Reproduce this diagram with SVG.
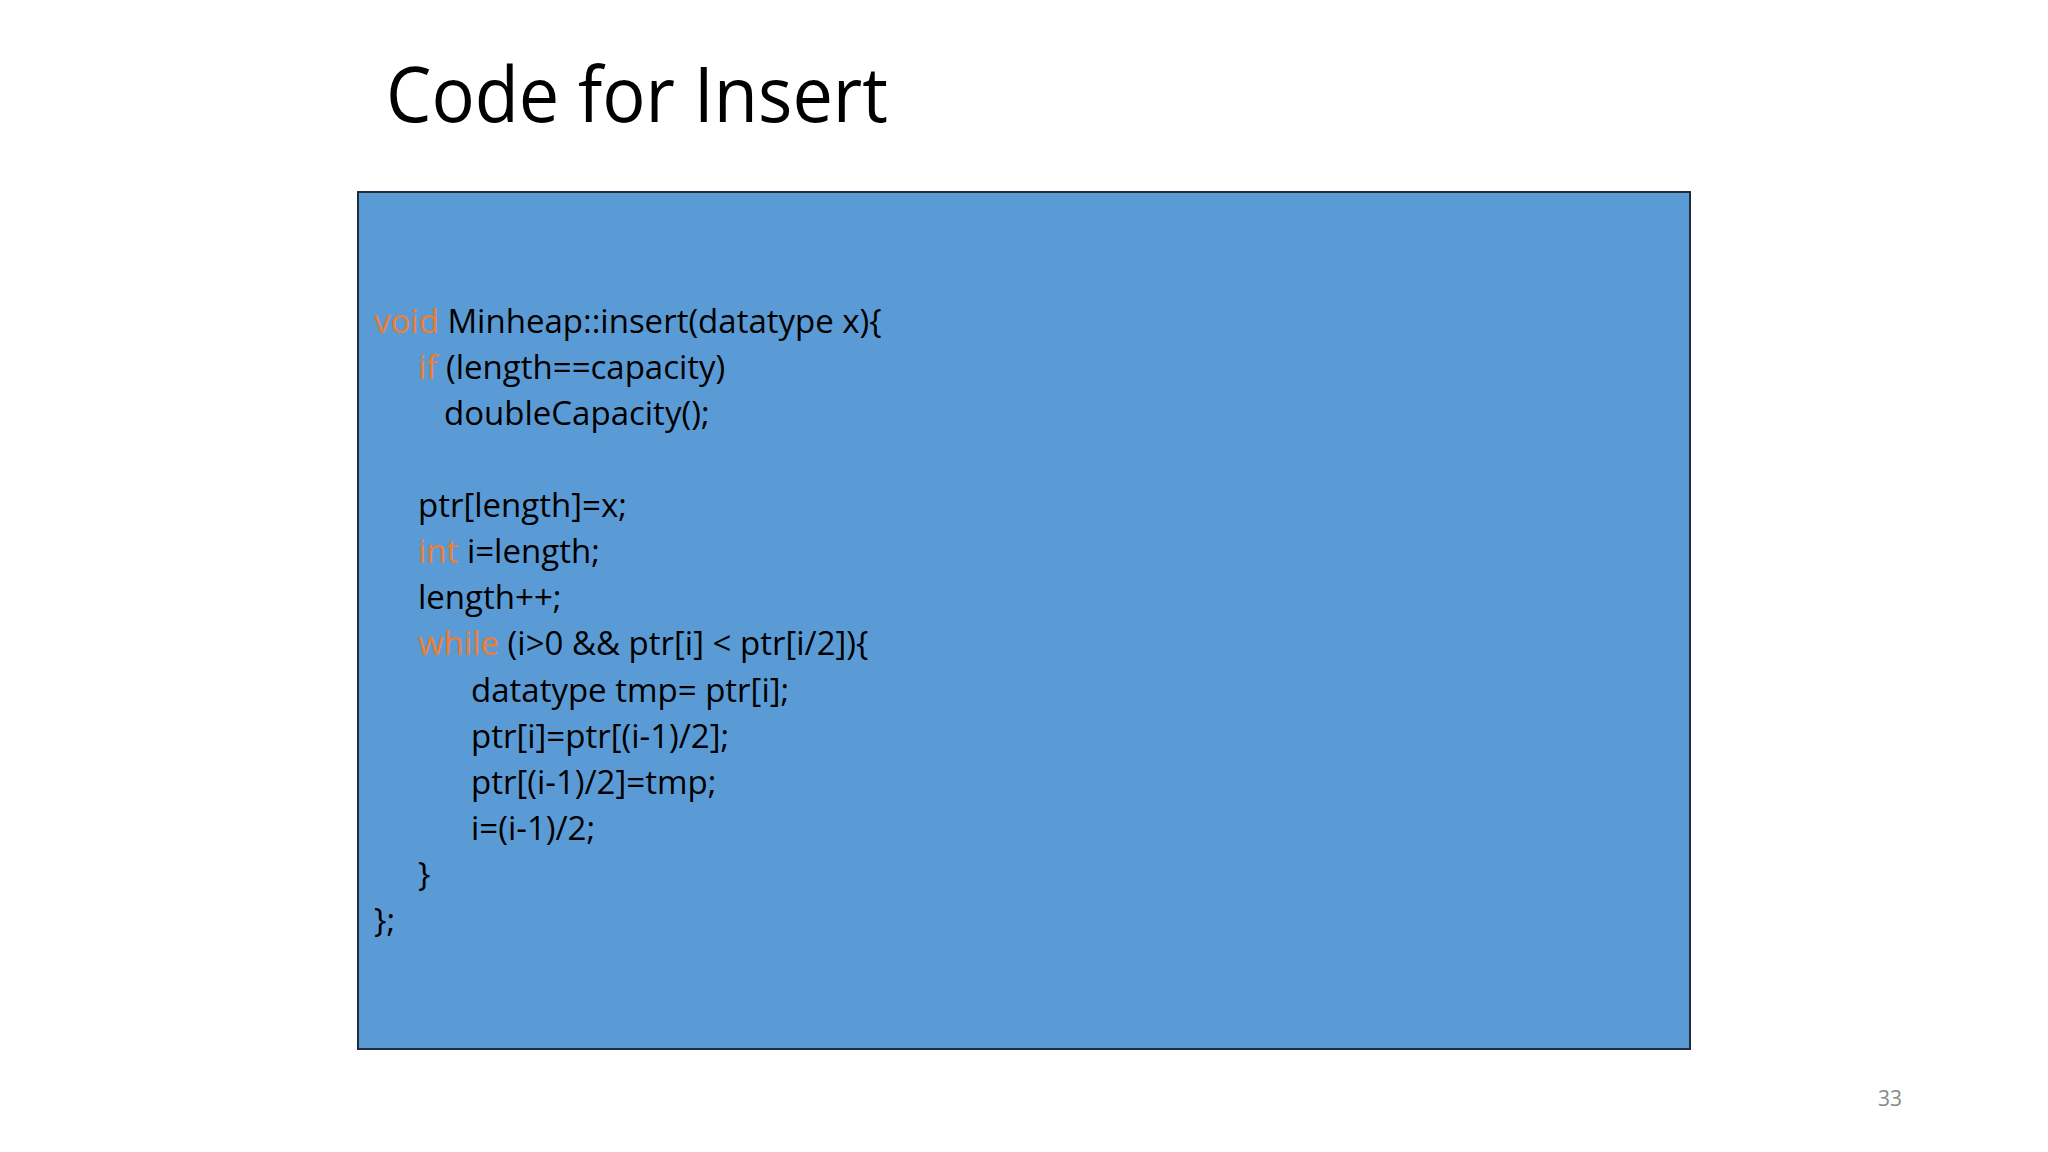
<svg xmlns="http://www.w3.org/2000/svg" width="2048" height="1152" viewBox="0 0 2048 1152">
<style>
.c{font-family:"Open Sans","Liberation Sans",sans-serif;font-size:33px;fill:#000}
.k{fill:#ED7D31}
</style>
<rect width="2048" height="1152" fill="#fff"/>
<text x="386" y="122" font-family="Open Sans,Liberation Sans,sans-serif" font-size="76" textLength="502" lengthAdjust="spacingAndGlyphs" fill="#000">Code for Insert</text>
<g id="codebox">
<rect x="358" y="192" width="1332" height="857" fill="#5B9BD5" stroke="#1F2D3D" stroke-width="2"/>
<text class="c" x="374" y="333"><tspan class="k">void</tspan> Minheap::insert(datatype x){</text>
<text class="c" x="418" y="379"><tspan class="k">if</tspan> (length==capacity)</text>
<text class="c" x="444" y="425">doubleCapacity();</text>
<text class="c" x="418" y="517">ptr[length]=x;</text>
<text class="c" x="418" y="563"><tspan class="k">int</tspan> i=length;</text>
<text class="c" x="418" y="609">length++;</text>
<text class="c" x="418" y="655"><tspan class="k">while</tspan> (i&gt;0 &amp;&amp; ptr[i] &lt; ptr[i/2]){</text>
<text class="c" x="471" y="702">datatype tmp= ptr[i];</text>
<text class="c" x="471" y="748">ptr[i]=ptr[(i-1)/2];</text>
<text class="c" x="471" y="794">ptr[(i-1)/2]=tmp;</text>
<text class="c" x="471" y="840">i=(i-1)/2;</text>
<text class="c" x="418" y="886">}</text>
<text class="c" x="374" y="932">};</text>
</g>
<text x="1878" y="1106" font-family="Open Sans,Liberation Sans,sans-serif" font-size="21" fill="#888">33</text>
</svg>
